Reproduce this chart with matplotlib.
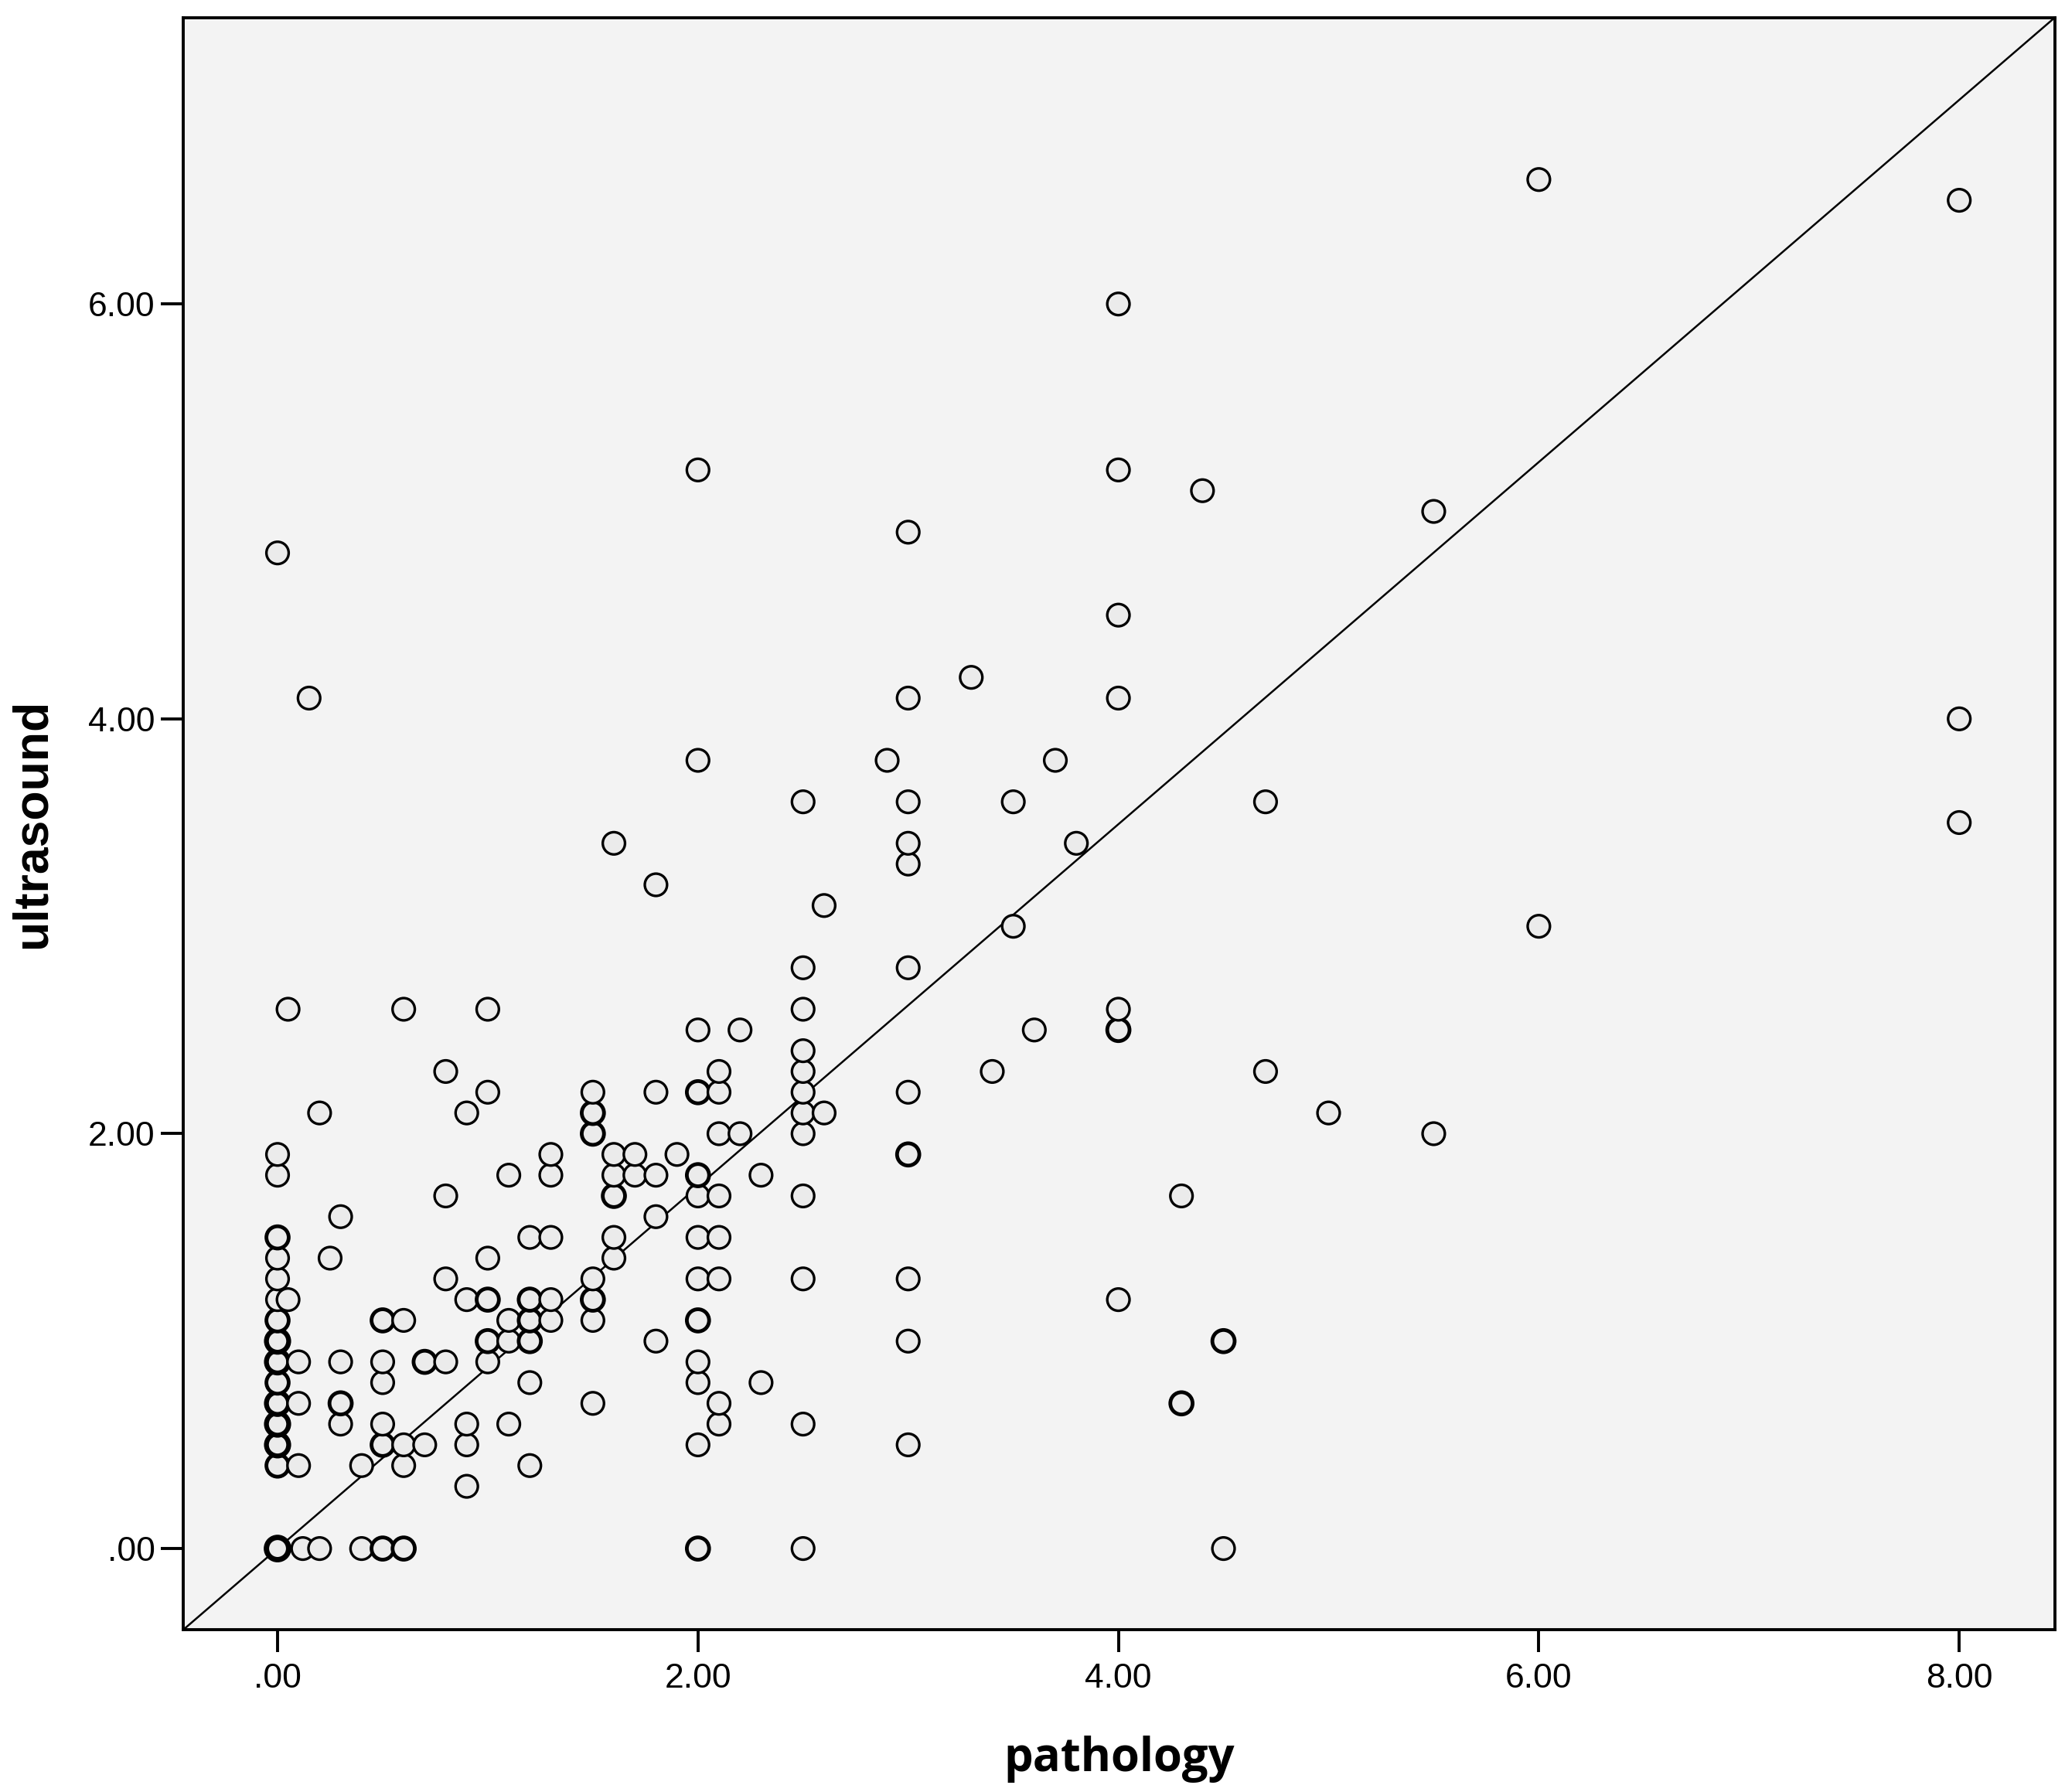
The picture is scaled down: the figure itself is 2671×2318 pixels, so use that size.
import numpy as np
import matplotlib
matplotlib.use('Agg')
import matplotlib.pyplot as plt
from matplotlib.ticker import FuncFormatter

# DATA ------------------------------------------------------------------------
# pathology value of each column of points, and the ultrasound values found there
path_levels = [0.0, 0.05, 0.1, 0.12, 0.15, 0.2, 0.25, 0.3, 0.4, 0.5, 0.6, 0.7,
               0.8, 0.9, 1.0, 1.1, 1.2, 1.3, 1.5, 1.6, 1.7, 1.8, 1.9, 2.0,
               2.1, 2.2, 2.3, 2.5, 2.6, 2.9, 3.0, 3.3, 3.4, 3.5, 3.6, 3.7,
               3.8, 4.0, 4.3, 4.4, 4.5, 4.7, 5.0, 5.5, 6.0, 8.0]
us_values = [
    [4.8, 1.9, 1.8, 1.5, 1.5, 1.4, 1.3, 1.2, 1.1, 1.1, 1.0, 1.0, 1.0, 0.9, 0.9,
     0.9, 0.8, 0.8, 0.7, 0.7, 0.7, 0.6, 0.6, 0.6, 0.5, 0.5, 0.5, 0.4, 0.4,
     0.0, 0.0, 0.0, 0.0, 0.0],                                   # 0.0
    [2.6, 1.2],                                                  # 0.05
    [0.9, 0.7, 0.4],                                             # 0.1
    [0.0],                                                       # 0.12
    [4.1],                                                       # 0.15
    [2.1, 0.0],                                                  # 0.2
    [1.4],                                                       # 0.25
    [1.6, 0.9, 0.7, 0.7, 0.6],                                   # 0.3
    [0.4, 0.0],                                                  # 0.4
    [1.1, 1.1, 0.9, 0.8, 0.6, 0.5, 0.5, 0.0, 0.0],               # 0.5
    [2.6, 1.1, 0.5, 0.4, 0.0, 0.0],                              # 0.6
    [0.9, 0.9, 0.5],                                             # 0.7
    [2.3, 1.7, 1.3, 0.9],                                        # 0.8
    [2.1, 1.2, 0.6, 0.5, 0.3],                                   # 0.9
    [2.6, 2.2, 1.4, 1.2, 1.2, 1.0, 1.0, 0.9],                    # 1.0
    [1.8, 1.1, 1.0, 0.6],                                        # 1.1
    [1.5, 1.2, 1.2, 1.1, 1.1, 1.0, 1.0, 0.8, 0.4],               # 1.2
    [1.9, 1.8, 1.5, 1.2, 1.1],                                   # 1.3
    [2.2, 2.1, 2.1, 2.0, 2.0, 1.3, 1.2, 1.2, 1.1, 0.7],          # 1.5
    [3.4, 1.9, 1.8, 1.7, 1.7, 1.5, 1.4],                         # 1.6
    [1.9, 1.8],                                                  # 1.7
    [3.2, 2.2, 1.8, 1.6, 1.0],                                   # 1.8
    [1.9],                                                       # 1.9
    [5.2, 3.8, 2.5, 2.2, 2.2, 1.8, 1.8, 1.7, 1.5, 1.3, 1.1, 1.1, 0.9, 0.8,
     0.5, 0.0, 0.0],                                             # 2.0
    [2.3, 2.2, 2.0, 1.7, 1.5, 1.3, 0.7, 0.6],                    # 2.1
    [2.5, 2.0],                                                  # 2.2
    [1.8, 0.8],                                                  # 2.3
    [3.6, 2.8, 2.6, 2.4, 2.3, 2.2, 2.1, 2.0, 1.7, 1.3, 0.6, 0.0],  # 2.5
    [3.1, 2.1],                                                  # 2.6
    [3.8],                                                       # 2.9
    [4.9, 4.1, 3.6, 3.4, 3.3, 2.8, 2.2, 1.9, 1.9, 1.3, 1.0, 0.5],  # 3.0
    [4.2],                                                       # 3.3
    [2.3],                                                       # 3.4
    [3.6, 3.0],                                                  # 3.5
    [2.5],                                                       # 3.6
    [3.8],                                                       # 3.7
    [3.4],                                                       # 3.8
    [6.0, 5.2, 4.5, 4.1, 2.6, 2.5, 2.5, 1.2],                    # 4.0
    [1.7, 0.7, 0.7],                                             # 4.3
    [5.1],                                                       # 4.4
    [1.0, 1.0, 0.0],                                             # 4.5
    [3.6, 2.3],                                                  # 4.7
    [2.1],                                                       # 5.0
    [5.0, 2.0],                                                  # 5.5
    [6.6, 3.0],                                                  # 6.0
    [6.5, 4.0, 3.5],                                             # 8.0
]
ref_slope = 0.873          # slope of the reference line through the origin
x_ticks = [0, 2, 4, 6, 8]
y_ticks = [0, 2, 4, 6]

# BUILD POINTS ----------------------------------------------------------------
pathology = np.concatenate([[p] * len(u) for p, u in zip(path_levels, us_values)])
ultrasound = np.concatenate([np.array(u, dtype=float) for u in us_values])

pts, counts = np.unique(np.column_stack([pathology, ultrasound]), axis=0,
                        return_counts=True)
edge_w = np.minimum(2.4 * (1 + 0.45 * (counts - 1)), 5.0)

# PLOT ------------------------------------------------------------------------
fig = plt.figure(figsize=(26.71, 23.18), dpi=100)
ax = fig.add_axes([0.0887, 0.0906, 0.9064, 0.8995])
ax.set_facecolor('#f3f3f3')

ax.set_xlim(-0.449, 8.455)
ax.set_ylim(-0.391, 7.380)

ax.axline((0, 0), slope=ref_slope, color='black', lw=1.8, zorder=2)
ax.scatter(pts[:, 0], pts[:, 1], s=430, facecolors='#ebebeb',
           edgecolors='black', linewidths=edge_w, zorder=3)

for sp in ax.spines.values():
    sp.set_linewidth(2.8)

fmt = FuncFormatter(lambda v, pos: ('%.2f' % v).lstrip('0') if v == 0 else '%.2f' % v)
ax.set_xticks(x_ticks)
ax.set_yticks(y_ticks)
ax.xaxis.set_major_formatter(fmt)
ax.yaxis.set_major_formatter(fmt)
ax.tick_params(axis='both', length=21, width=2.8, labelsize=32, color='black')
ax.tick_params(axis='x', pad=10)
ax.tick_params(axis='y', pad=5)
for lab in ax.get_xticklabels() + ax.get_yticklabels():
    lab.set_fontfamily('Liberation Sans')

ax.set_xlabel('pathology', fontsize=43, fontweight='bold',
              family=['Open Sans', 'DejaVu Sans'], labelpad=38)
ax.set_ylabel('ultrasound', fontsize=45, fontweight='bold',
              family=['Liberation Sans', 'DejaVu Sans'], labelpad=31)

fig.savefig('out.png', dpi=100, facecolor='white')
